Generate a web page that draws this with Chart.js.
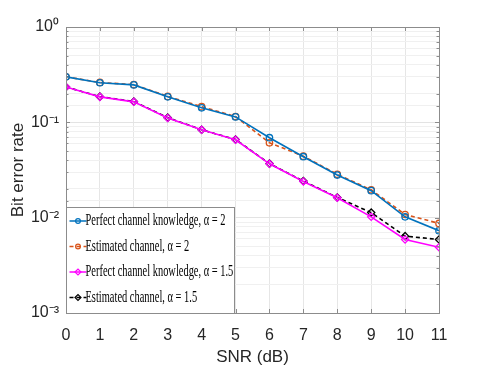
<!DOCTYPE html>
<html>
<head>
<meta charset="utf-8">
<script src="https://cdn.jsdelivr.net/npm/chart.js@4.4.1/dist/chart.umd.min.js"></script>
<style>
html, body { margin: 0; padding: 0; background: #fff; }
</style>
</head>
<body>
<canvas id="ber" width="491" height="368"></canvas>
<script>
// SNR points (dB)
const snrDb = [0, 1, 2, 3, 4, 5, 6, 7, 8, 9, 10, 11];

// bit error rate
const perfectA2 = [0.30, 0.26, 0.247, 0.185, 0.142, 0.114, 0.069, 0.0436, 0.028, 0.0192, 0.0102, 0.0073];
const estimatedA2 = [0.30, 0.262, 0.249, 0.187, 0.146, 0.115, 0.061, 0.0442, 0.0285, 0.0196, 0.0108, 0.0087];
const perfectA15 = [0.235, 0.185, 0.164, 0.111, 0.0834, 0.0656, 0.0367, 0.024, 0.0162, 0.0102, 0.0059, 0.0049];
const estimatedA15 = [0.235, 0.186, 0.165, 0.112, 0.0836, 0.066, 0.0369, 0.0242, 0.0163, 0.0113, 0.0064, 0.0059];

const seriesNames = [
    'Perfect channel knowledge, \u03b1 = 2',
    'Estimated channel, \u03b1 = 2',
    'Perfect channel knowledge, \u03b1 = 1.5',
    'Estimated channel, \u03b1 = 1.5'
];
const seriesColors = ['#0072BD', '#D95319', '#FF00FF', '#000000'];
const seriesDash = [[], [4, 3], [], [4, 3]];
const seriesMarker = ['circle', 'circle', 'rectRot', 'rectRot'];

const yTickText = {'1': '10\u2070', '0.1': '10\u207b\u00b9', '0.01': '10\u207b\u00b2', '0.001': '10\u207b\u00b3'};

function isDecade(v) {
    const l = Math.log10(v);
    return Math.abs(l - Math.round(l)) < 1e-6;
}

function makeDataset(i, values) {
    return {
        label: seriesNames[i],
        data: values,
        borderColor: seriesColors[i],
        backgroundColor: 'rgba(0,0,0,0)',
        borderWidth: 1.6,
        borderDash: seriesDash[i],
        pointStyle: seriesMarker[i],
        pointRadius: seriesMarker[i] === 'circle' ? 3.2 : 3.6,
        pointBorderWidth: 1.3,
        pointBorderColor: seriesColors[i],
        pointBackgroundColor: 'rgba(0,0,0,0)',
        tension: 0
    };
}

// box round the axes and inward tick marks, matlab style
const framePlugin = {
    id: 'frame',
    afterDatasetsDraw(chart) {
        const ctx = chart.ctx;
        const a = chart.chartArea;
        const xs = chart.scales.x;
        const ys = chart.scales.y;
        ctx.save();
        ctx.strokeStyle = '#8c8c8c';
        ctx.lineWidth = 1;
        ctx.beginPath();
        xs.ticks.forEach((t) => {
            const px = Math.round(xs.getPixelForValue(t.value)) + 0.5;
            ctx.moveTo(px, a.bottom); ctx.lineTo(px, a.bottom - 4);
            ctx.moveTo(px, a.top); ctx.lineTo(px, a.top + 4);
        });
        ys.ticks.forEach((t) => {
            const py = Math.round(ys.getPixelForValue(t.value)) + 0.5;
            const len = isDecade(t.value) ? 4 : 2.5;
            ctx.moveTo(a.left, py); ctx.lineTo(a.left + len, py);
            ctx.moveTo(a.right, py); ctx.lineTo(a.right - len, py);
        });
        ctx.stroke();
        ctx.strokeRect(Math.round(a.left) + 0.5, Math.round(a.top) + 0.5,
            Math.round(a.right - a.left), Math.round(a.bottom - a.top));
        ctx.restore();
    }
};

// legend sits inside the axes at the lower left
const boxLegendPlugin = {
    id: 'boxLegend',
    afterDraw(chart) {
        const ctx = chart.ctx;
        const a = chart.chartArea;
        const bx = Math.round(a.left) + 0.5;
        const by = 207.5;
        const bw = 168;
        const bh = Math.round(a.bottom) - 207;
        ctx.save();
        ctx.fillStyle = '#ffffff';
        ctx.fillRect(bx, by, bw, bh);
        ctx.strokeStyle = '#8c8c8c';
        ctx.lineWidth = 1;
        ctx.strokeRect(bx, by, bw, bh);
        ctx.font = '15px "Liberation Serif", "DejaVu Serif", serif';
        ctx.textBaseline = 'middle';
        const refW = ctx.measureText(seriesNames[0]).width;
        const sx = 140 / refW;
        chart.data.datasets.forEach((ds, i) => {
            const y = 221 + i * 25.5;
            ctx.strokeStyle = ds.borderColor;
            ctx.lineWidth = 1.5;
            ctx.setLineDash(ds.borderDash);
            ctx.beginPath();
            ctx.moveTo(bx + 3, y);
            ctx.lineTo(bx + 20, y);
            ctx.stroke();
            ctx.setLineDash([]);
            ctx.lineWidth = 1.2;
            ctx.fillStyle = 'rgba(0,0,0,0)';
            Chart.helpers.drawPoint(ctx, {
                pointStyle: ds.pointStyle,
                radius: ds.pointStyle === 'circle' ? 2.4 : 3,
                rotation: 0,
                borderWidth: 1.2
            }, bx + 11.5, y);
            ctx.save();
            ctx.translate(bx + 19, y);
            ctx.scale(sx, 1.1);
            ctx.fillStyle = '#000';
            ctx.fillText(ds.label, 0, 0);
            ctx.restore();
        });
        ctx.restore();
    }
};

const greyTick = '#262626';
const tickFont = '"Liberation Sans Narrow", "Liberation Sans", Arial, sans-serif';

new Chart(document.getElementById('ber'), {
    type: 'line',
    data: {
        labels: snrDb,
        datasets: [
            makeDataset(0, perfectA2),
            makeDataset(1, estimatedA2),
            makeDataset(2, perfectA15),
            makeDataset(3, estimatedA15)
        ]
    },
    options: {
        responsive: false,
        animation: false,
        layout: { padding: { top: 27, right: 52, left: 0, bottom: 0 } },
        plugins: {
            legend: { display: false },
            tooltip: { enabled: false }
        },
        scales: {
            x: {
                type: 'linear',
                min: 0,
                max: 11,
                afterFit(scale) { scale.height = 55; },
                ticks: {
                    stepSize: 1,
                    padding: 13,
                    color: greyTick,
                    font: { family: tickFont, size: 16 }
                },
                grid: { color: '#e6e6e6', lineWidth: 1, drawTicks: false },
                border: { display: false },
                title: {
                    display: true,
                    text: 'SNR (dB)',
                    color: greyTick,
                    padding: { top: 0, bottom: 0 },
                    font: { family: tickFont, size: 17 }
                }
            },
            y: {
                type: 'logarithmic',
                min: 0.001,
                max: 1,
                afterFit(scale) { scale.width = 66; },
                ticks: {
                    autoSkip: false,
                    padding: 7,
                    color: greyTick,
                    font: { family: tickFont, size: 16 },
                    callback: (v) => yTickText[String(v)] || ''
                },
                grid: {
                    drawTicks: false,
                    lineWidth: 1,
                    color: (c) => (c.tick && isDecade(c.tick.value)) ? '#e3e3e3' : '#f0f0f0'
                },
                border: { display: false },
                title: {
                    display: true,
                    text: 'Bit error rate',
                    color: greyTick,
                    padding: { top: 8, bottom: 0 },
                    font: { family: '"Liberation Sans", Arial, sans-serif', size: 17 }
                }
            }
        }
    },
    plugins: [framePlugin, boxLegendPlugin]
});
</script>
</body>
</html>
